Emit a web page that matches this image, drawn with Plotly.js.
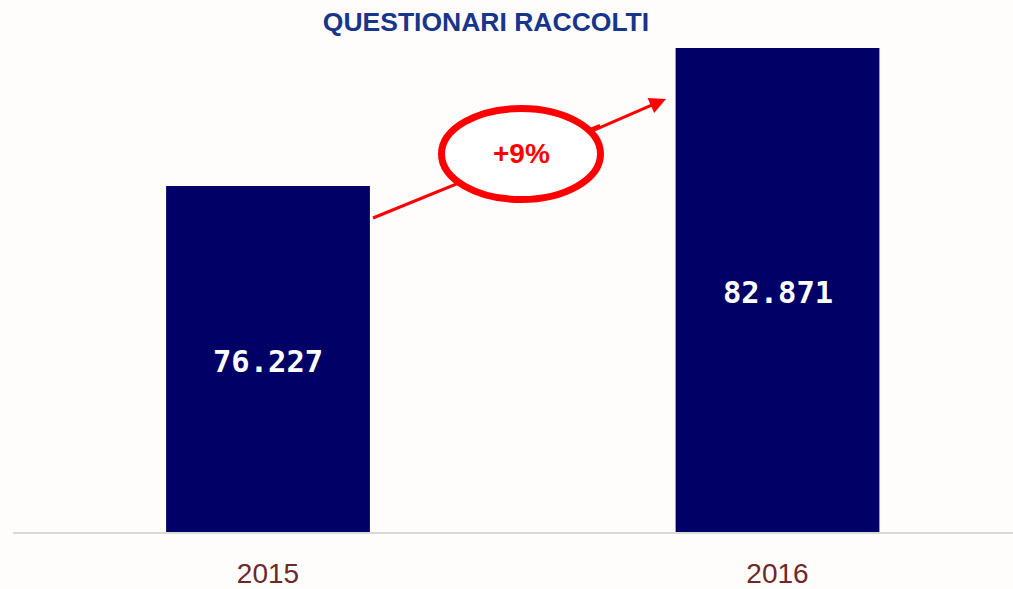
<!DOCTYPE html>
<html>
<head>
<meta charset="utf-8">
<script src="https://cdn.plot.ly/plotly-3.0.1.min.js"></script>
<style>html,body{margin:0;padding:0;background:#fefdfc;}#chart{width:1013px;height:589px;}</style>
</head>
<body>
<div id="chart"></div>
<script>
const years = ['2015', '2016'];
const questionari = [76227, 82871];
const labels = ['76.227', '82.871'];
const growthLabel = '+9%';
const chartTitle = 'QUESTIONARI RACCOLTI';

const yMin = 59568, yMax = 83737;

const bars = {
  type: 'bar',
  x: years,
  y: questionari,
  width: 0.4,
  marker: {color: '#000066'},
  hoverinfo: 'none'
};

const L = 13, T = 30, W = 1000, H = 502;
function px(x){ return (x - L) / W; }
function py(y){ return (T + H - y) / H; }

const barAnnotations = years.map((yr, i) => ({
  xref: 'x', yref: 'y', x: i, y: (questionari[i] + yMin) / 2,
  xanchor: 'center', yanchor: 'middle', yshift: -3, showarrow: false,
  text: '<b>' + labels[i] + '</b>',
  font: {family: 'DejaVu Sans Mono', size: 30.5, color: '#ffffff'}
}));

const layout = {
  width: 1013, height: 589,
  margin: {l: L, r: 0, t: T, b: 57},
  paper_bgcolor: '#fefdfc',
  plot_bgcolor: '#fefdfc',
  showlegend: false,
  title: {text: '<b>' + chartTitle + '</b>', x: 486/1013, xanchor: 'center', y: 1 - 22/589, yanchor: 'middle',
          font: {family: 'Liberation Sans', size: 26.5, color: '#17358b'}},
  xaxis: {type: 'category', range: [-0.5005, 1.4622], showline: true, linecolor: '#d9d9d9', linewidth: 2,
          showgrid: false, zeroline: false, ticks: '', ticklen: 0, ticklabelstandoff: 15,
          tickfont: {family: 'Liberation Sans', size: 28, color: '#6d2828'}},
  yaxis: {range: [yMin, yMax], visible: false, showgrid: false, zeroline: false},
  shapes: [
    {type: 'line', xref: 'paper', yref: 'paper', x0: px(373), y0: py(218), x1: px(600), y1: py(125.5),
     line: {color: '#ff0000', width: 3}, layer: 'above'},
    {type: 'circle', xref: 'paper', yref: 'paper', x0: px(441.5), x1: px(600.5), y0: py(199.5), y1: py(108.5),
     line: {color: '#ff0000', width: 7}, fillcolor: '#ffffff', layer: 'above'}
  ],
  annotations: barAnnotations.concat([
    {xref: 'paper', yref: 'paper', x: px(666), y: py(99), ax: 592 - 666, ay: 131 - 99, axref: 'pixel', ayref: 'pixel',
     showarrow: true, arrowhead: 2, arrowsize: 1.1, arrowwidth: 3, arrowcolor: '#ff0000', text: ''},
    {xref: 'paper', yref: 'paper', x: px(521), y: py(153), xanchor: 'center', yanchor: 'middle', showarrow: false,
     text: '<b>' + growthLabel + '</b>', font: {family: 'Liberation Sans', size: 28, color: '#ff0000'}}
  ])
};

Plotly.newPlot('chart', [bars], layout, {displayModeBar: false, staticPlot: true});
</script>
</body>
</html>
